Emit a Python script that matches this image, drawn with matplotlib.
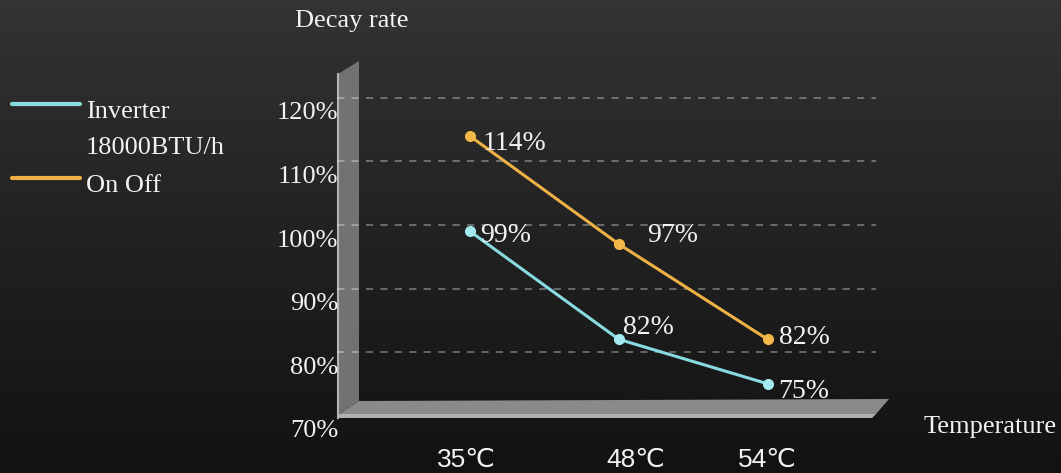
import numpy as np
import matplotlib
matplotlib.use("Agg")
import matplotlib.pyplot as plt
import matplotlib.transforms as mtransforms
from matplotlib.patches import Polygon
from matplotlib.lines import Line2D

# data
temps = ["35℃", "48℃", "54℃"]
inverter = [99, 82, 75]
on_off = [114, 97, 82]
y_ticks = [70, 80, 90, 100, 110, 120]
legend_labels = ["Inverter\n18000BTU/h", "On Off"]
y_title = "Decay rate"
x_title = "Temperature"

# style
W, H = 1061, 473
SERIF = ["Liberation Serif", "DejaVu Serif"]
SANS = ["Liberation Sans Narrow", "Liberation Sans", "DejaVu Sans"]
FS = 19
TXT = "#f2f2f2"
CYAN = "#88dbe1"
ORANGE = "#eeb146"
# label offsets in pixels (dx, dy) per point
inv_off = [(10, -4), (4, 12), (11, -8)]
onoff_off = [(13, -7), (28, 9), (11, 2)]
tick_nudge = [-4, 17, 0]

fig = plt.figure(figsize=(W / 100, H / 100), dpi=100)

# background + fake 3D walls, drawn in pixel coords
bg = fig.add_axes([0, 0, 1, 1], zorder=0)
grad = np.linspace(0, 1, 256)[:, None, None]
top = np.array([0x34, 0x34, 0x34]) / 255
bot = np.array([0x12, 0x12, 0x12]) / 255
bg.imshow(top + (bot - top) * grad ** 0.9, extent=(0, W, H, 0),
          aspect="auto", interpolation="bicubic")
bg.set_xlim(0, W)
bg.set_ylim(H, 0)
bg.axis("off")

bg.add_patch(Polygon([(338, 74), (359, 61), (359, 401), (338, 415)],
                     closed=True, fc="#727272", ec="none"))
bg.add_patch(Polygon([(338, 415), (359, 401), (889, 399), (876, 414)],
                     closed=True, fc="#8a8a8a", ec="none"))
bg.add_patch(Polygon([(338, 414), (876, 414), (872, 418), (338, 418)],
                     closed=True, fc="#b0b0b0", ec="none"))
bg.plot([337.5, 337.5], [74, 418], color="#b4b4b4", lw=1.5)

# main axes, aligned to the wall
px_per_unit = 6.35
y0_px = 415.5
ax = fig.add_axes([337 / W, (H - y0_px) / H, (876 - 337) / W,
                   57 * px_per_unit / H], zorder=2)
ax.patch.set_alpha(0)
ax.set_xlim(-0.894, 2.729)
ax.set_ylim(70, 127)
for s in ax.spines.values():
    s.set_visible(False)

for v in y_ticks[1:]:
    ax.axhline(v, color="white", alpha=0.36, lw=1.3, ls=(0, (4, 4)), zorder=1)

x = np.arange(len(temps))
ax.plot(x, on_off, color=ORANGE, lw=2.2, marker="o", ms=7,
        mfc="#f4b84a", mec="#f4b84a", zorder=3)
ax.plot(x, inverter, color=CYAN, lw=2.2, marker="o", ms=7,
        mfc="#a2eaef", mec="#a2eaef", zorder=3)

for vals, offs in ((on_off, onoff_off), (inverter, inv_off)):
    for i, v in enumerate(vals):
        ax.annotate(f"{v}%", (i, v), xytext=offs[i], textcoords="offset pixels",
                    ha="left", va="center", color=TXT, fontsize=20,
                    family=SERIF, zorder=4)

ax.set_yticks(y_ticks)
ax.set_yticklabels([f"{v}%" for v in y_ticks], family=SERIF, fontsize=FS, color=TXT)
ax.tick_params(axis="y", length=0, pad=-1)
shift = mtransforms.ScaledTranslation(0, -13 / 100, fig.dpi_scale_trans)
for lbl in ax.get_yticklabels():
    lbl.set_transform(lbl.get_transform() + shift)

ax.set_xticks(x)
ax.set_xticklabels(temps, family=SANS, fontsize=19, color=TXT)
ax.tick_params(axis="x", length=0, pad=23)
for lbl, n in zip(ax.get_xticklabels(), tick_nudge):
    lbl.set_transform(lbl.get_transform() +
                      mtransforms.ScaledTranslation(n / 100, 0, fig.dpi_scale_trans))

# axis titles
fig.text(295 / W, 1 - 27 / H, y_title, va="baseline", ha="left",
         color=TXT, fontsize=FS, family=SERIF)
fig.text(924 / W, 1 - 433 / H, x_title, va="baseline", ha="left",
         color=TXT, fontsize=FS, family=SERIF)

# legend
for row_y, lab, col in zip([104, 178], legend_labels, [CYAN, ORANGE]):
    fig.add_artist(Line2D([12 / W, 80 / W], [1 - row_y / H] * 2,
                          transform=fig.transFigure, color=col, lw=3,
                          solid_capstyle="round", zorder=5))
    for k, line in enumerate(lab.split("\n")):
        fig.text(86 / W, 1 - (row_y + 14 + 36 * k) / H, line, va="baseline",
                 ha="left", color=TXT, fontsize=FS, family=SERIF)

fig.savefig("out.png", dpi=100)
